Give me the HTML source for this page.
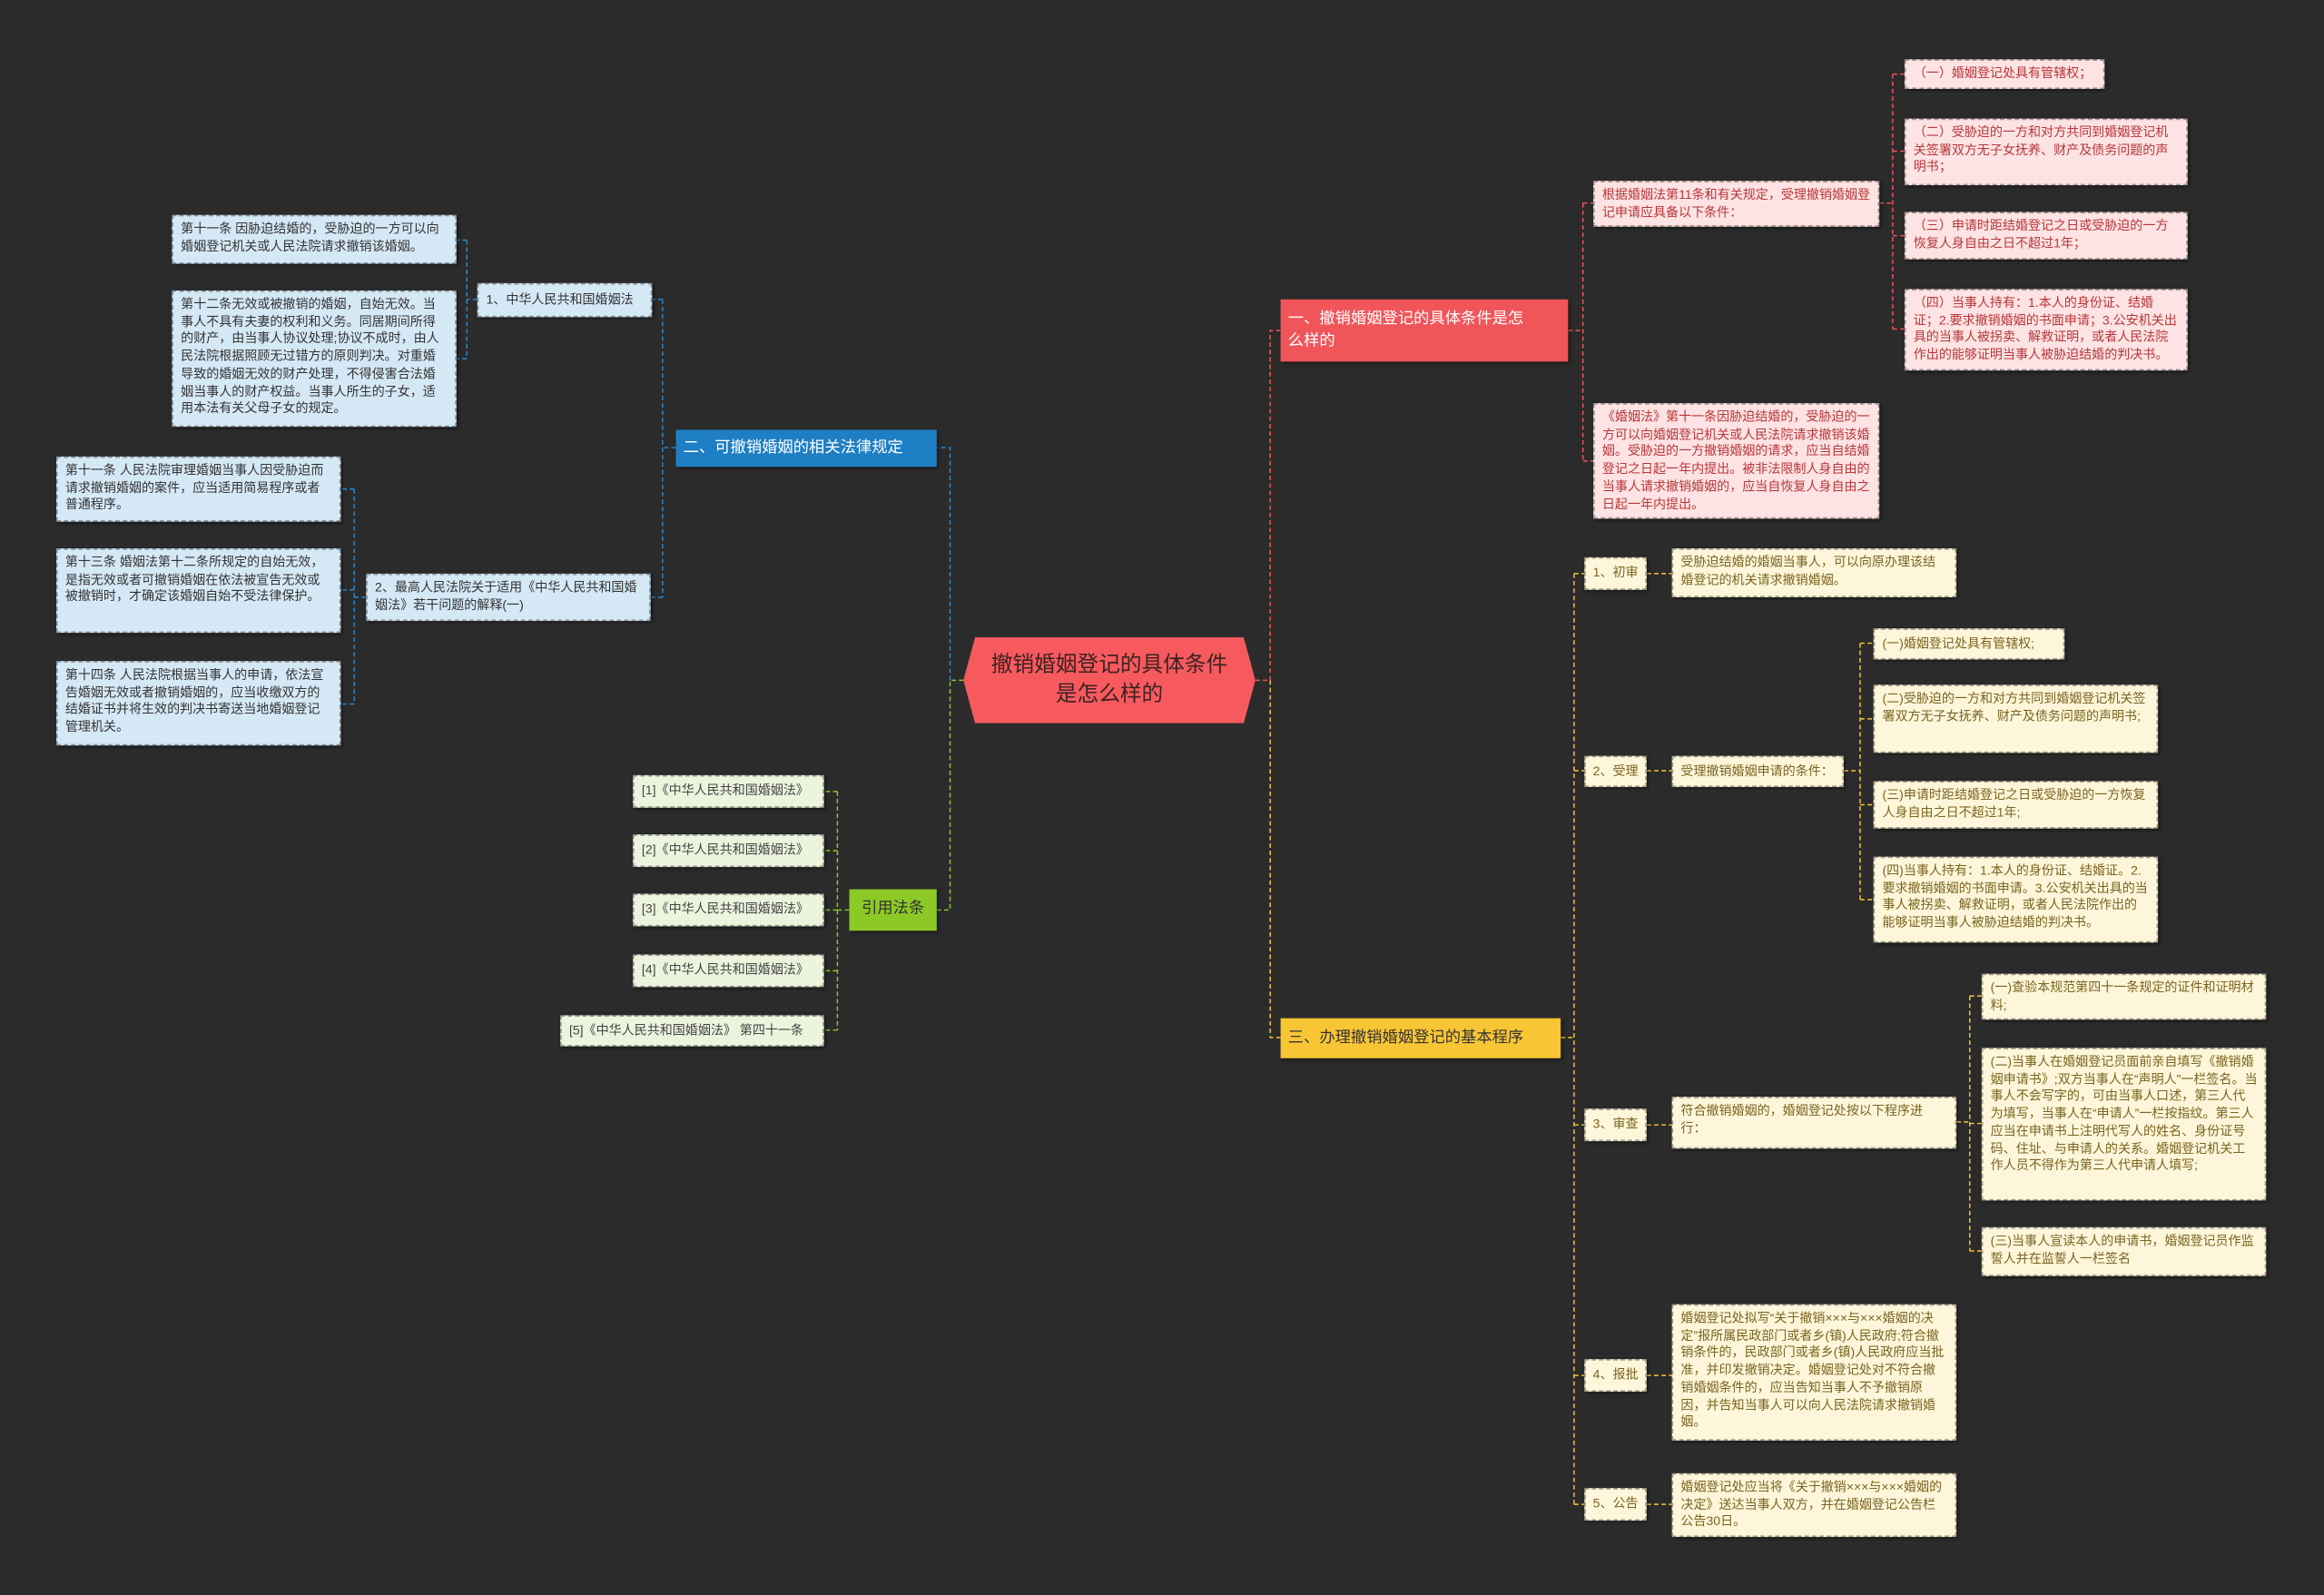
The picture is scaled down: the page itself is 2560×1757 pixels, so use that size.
<!DOCTYPE html>
<html><head><meta charset="utf-8">
<style>
html,body{margin:0;padding:0;background:#2b2b2b;}
#wrap{position:absolute;left:0;top:0;width:1568px;height:1076px;transform:scale(1.63265);transform-origin:0 0;overflow:hidden;background:#2b2b2b;font-family:"Liberation Sans","Noto Sans CJK SC",sans-serif;}
.b{position:absolute;box-sizing:border-box;font-size:8.6px;line-height:11.7px;padding:3px 5px;border:1px dashed rgba(0,0,0,0.35);box-shadow:1px 1px 2px rgba(0,0,0,0.5);word-break:break-all;}
.r{background:#fde3e3;color:#b8363a;}
.bl{background:#d5e8f6;color:#333;}
.g{background:#ecf4de;color:#444;}
.y{background:#fdf6da;color:#7a6420;}
.c{display:flex;align-items:center;}
.s{white-space:nowrap;padding:2px 3px;justify-content:center;}
svg{position:absolute;left:0;top:0;}
</style></head><body>
<div id="wrap">
<svg width="1568" height="1076" fill="none" stroke-width="0.9" stroke-dasharray="3 2">
<g stroke="#2a8ad0">
<path d="M641 459V302H632M456 302H447M447 202V403M447 202H440M447 403H439M322 202H315M315 162V242M315 162H308M315 242H308M247 403H239M239 330V475M239 330H230M239 398H230M239 475H230"/>
</g>
<g stroke="#8cc926">
<path d="M650 459H641V614H632M573 614H565M565 534V695M565 534H556M565 574H556M565 614H556M565 655H556M565 695H556"/>
</g>
<g stroke="#f0555a">
<path d="M847 459H857V223H864M1058 223H1068M1068 137V311M1068 137H1075M1068 311H1075M1268 137H1277M1277 50V222M1277 50H1285M1277 102H1285M1277 159H1285M1277 222H1285"/>
</g>
<g stroke="#f8c534">
<path d="M857 459V700H864M1053 700H1062M1062 387V1015M1062 387H1069M1062 520H1069M1062 759H1069M1062 928H1069M1062 1015H1069M1111 387H1128M1111 520H1128M1111 759H1128M1111 928H1128M1111 1015H1128M1244 520H1255M1255 434V607M1255 434H1264M1255 485H1264M1255 543H1264M1255 607H1264M1320 757H1329M1329 672V844M1329 672H1337M1329 758H1337M1329 844H1337"/>
</g>
</svg>

<div style="position:absolute;left:650px;top:430px;width:197px;height:58px;background:#f65a5e;clip-path:polygon(4% 0,96% 0,100% 50%,96% 100%,4% 100%,0 50%);color:#3e2222;font-size:14.5px;line-height:20px;display:flex;align-items:center;justify-content:center;text-align:center;padding:0 12px;box-sizing:border-box;">撤销婚姻登记的具体条件是怎么样的</div>

<div class="b c" style="left:864px;top:202px;width:194px;height:42px;background:#f0555a;color:#fff;font-size:10.6px;line-height:15px;border:none;padding-right:24px;">一、撤销婚姻登记的具体条件是怎么样的</div>
<div class="b r" style="left:1075px;top:122px;width:193px;height:31px;">根据婚姻法第11条和有关规定，受理撤销婚姻登记申请应具备以下条件：</div>
<div class="b r" style="left:1075px;top:272px;width:193px;height:78px;">《婚姻法》第十一条因胁迫结婚的，受胁迫的一方可以向婚姻登记机关或人民法院请求撤销该婚姻。受胁迫的一方撤销婚姻的请求，应当自结婚登记之日起一年内提出。被非法限制人身自由的当事人请求撤销婚姻的，应当自恢复人身自由之日起一年内提出。</div>
<div class="b r c" style="left:1285px;top:40px;width:135px;height:20px;">（一）婚姻登记处具有管辖权；</div>
<div class="b r" style="left:1285px;top:80px;width:191px;height:45px;">（二）受胁迫的一方和对方共同到婚姻登记机关签署双方无子女抚养、财产及债务问题的声明书；</div>
<div class="b r" style="left:1285px;top:143px;width:191px;height:32px;">（三）申请时距结婚登记之日或受胁迫的一方恢复人身自由之日不超过1年；</div>
<div class="b r" style="left:1285px;top:195px;width:191px;height:55px;">（四）当事人持有：1.本人的身份证、结婚证；2.要求撤销婚姻的书面申请；3.公安机关出具的当事人被拐卖、解救证明，或者人民法院作出的能够证明当事人被胁迫结婚的判决书。</div>

<div class="b c" style="left:456px;top:290px;width:176px;height:25px;background:#1f7fc4;color:#fff;font-size:10.6px;border:none;">二、可撤销婚姻的相关法律规定</div>
<div class="b bl c" style="left:322px;top:191px;width:118px;height:23px;">1、中华人民共和国婚姻法</div>
<div class="b bl" style="left:247px;top:387px;width:192px;height:32px;">2、最高人民法院关于适用《中华人民共和国婚姻法》若干问题的解释(一)</div>
<div class="b bl" style="left:116px;top:145px;width:192px;height:33px;">第十一条 因胁迫结婚的，受胁迫的一方可以向婚姻登记机关或人民法院请求撤销该婚姻。</div>
<div class="b bl" style="left:116px;top:196px;width:192px;height:92px;">第十二条无效或被撤销的婚姻，自始无效。当事人不具有夫妻的权利和义务。同居期间所得的财产，由当事人协议处理;协议不成时，由人民法院根据照顾无过错方的原则判决。对重婚导致的婚姻无效的财产处理，不得侵害合法婚姻当事人的财产权益。当事人所生的子女，适用本法有关父母子女的规定。</div>
<div class="b bl" style="left:38px;top:308px;width:192px;height:44px;">第十一条 人民法院审理婚姻当事人因受胁迫而请求撤销婚姻的案件，应当适用简易程序或者普通程序。</div>
<div class="b bl" style="left:38px;top:370px;width:192px;height:57px;">第十三条 婚姻法第十二条所规定的自始无效，是指无效或者可撤销婚姻在依法被宣告无效或被撤销时，才确定该婚姻自始不受法律保护。</div>
<div class="b bl" style="left:38px;top:446px;width:192px;height:57px;">第十四条 人民法院根据当事人的申请，依法宣告婚姻无效或者撤销婚姻的，应当收缴双方的结婚证书并将生效的判决书寄送当地婚姻登记管理机关。</div>

<div class="b c" style="left:573px;top:600px;width:59px;height:28px;background:#8cc926;color:#333;font-size:10.6px;border:none;justify-content:center;">引用法条</div>
<div class="b g c" style="left:427px;top:523px;width:129px;height:22px;">[1]《中华人民共和国婚姻法》</div>
<div class="b g c" style="left:427px;top:563px;width:129px;height:22px;">[2]《中华人民共和国婚姻法》</div>
<div class="b g c" style="left:427px;top:603px;width:129px;height:22px;">[3]《中华人民共和国婚姻法》</div>
<div class="b g c" style="left:427px;top:644px;width:129px;height:22px;">[4]《中华人民共和国婚姻法》</div>
<div class="b g c" style="left:378px;top:685px;width:178px;height:21px;">[5]《中华人民共和国婚姻法》 第四十一条</div>

<div class="b c" style="left:864px;top:687px;width:189px;height:27px;background:#f8c534;color:#333;font-size:10.6px;border:none;">三、办理撤销婚姻登记的基本程序</div>
<div class="b y c s" style="left:1069px;top:376px;width:42px;height:22px;">1、初审</div>
<div class="b y c s" style="left:1069px;top:510px;width:42px;height:21px;">2、受理</div>
<div class="b y c s" style="left:1069px;top:748px;width:42px;height:22px;">3、审查</div>
<div class="b y c s" style="left:1069px;top:917px;width:42px;height:22px;">4、报批</div>
<div class="b y c s" style="left:1069px;top:1004px;width:42px;height:22px;">5、公告</div>
<div class="b y" style="left:1128px;top:370px;width:192px;height:33px;">受胁迫结婚的婚姻当事人，可以向原办理该结婚登记的机关请求撤销婚姻。</div>
<div class="b y c" style="left:1128px;top:510px;width:116px;height:21px;">受理撤销婚姻申请的条件：</div>
<div class="b y" style="left:1128px;top:740px;width:192px;height:35px;">符合撤销婚姻的，婚姻登记处按以下程序进行：</div>
<div class="b y" style="left:1128px;top:880px;width:192px;height:92px;">婚姻登记处拟写“关于撤销×××与×××婚姻的决定”报所属民政部门或者乡(镇)人民政府;符合撤销条件的，民政部门或者乡(镇)人民政府应当批准，并印发撤销决定。婚姻登记处对不符合撤销婚姻条件的，应当告知当事人不予撤销原因，并告知当事人可以向人民法院请求撤销婚姻。</div>
<div class="b y" style="left:1128px;top:994px;width:192px;height:43px;">婚姻登记处应当将《关于撤销×××与×××婚姻的决定》送达当事人双方，并在婚姻登记公告栏公告30日。</div>
<div class="b y c" style="left:1264px;top:424px;width:129px;height:21px;">(一)婚姻登记处具有管辖权;</div>
<div class="b y" style="left:1264px;top:462px;width:192px;height:46px;">(二)受胁迫的一方和对方共同到婚姻登记机关签署双方无子女抚养、财产及债务问题的声明书;</div>
<div class="b y" style="left:1264px;top:527px;width:192px;height:32px;">(三)申请时距结婚登记之日或受胁迫的一方恢复人身自由之日不超过1年;</div>
<div class="b y" style="left:1264px;top:578px;width:192px;height:58px;">(四)当事人持有：1.本人的身份证、结婚证。2.要求撤销婚姻的书面申请。3.公安机关出具的当事人被拐卖、解救证明，或者人民法院作出的能够证明当事人被胁迫结婚的判决书。</div>
<div class="b y" style="left:1337px;top:657px;width:192px;height:31px;">(一)查验本规范第四十一条规定的证件和证明材料;</div>
<div class="b y" style="left:1337px;top:707px;width:192px;height:103px;">(二)当事人在婚姻登记员面前亲自填写《撤销婚姻申请书》;双方当事人在“声明人”一栏签名。当事人不会写字的，可由当事人口述，第三人代为填写，当事人在“申请人”一栏按指纹。第三人应当在申请书上注明代写人的姓名、身份证号码、住址、与申请人的关系。婚姻登记机关工作人员不得作为第三人代申请人填写;</div>
<div class="b y" style="left:1337px;top:828px;width:192px;height:33px;">(三)当事人宣读本人的申请书，婚姻登记员作监誓人并在监誓人一栏签名</div>
</div>
</body></html>
